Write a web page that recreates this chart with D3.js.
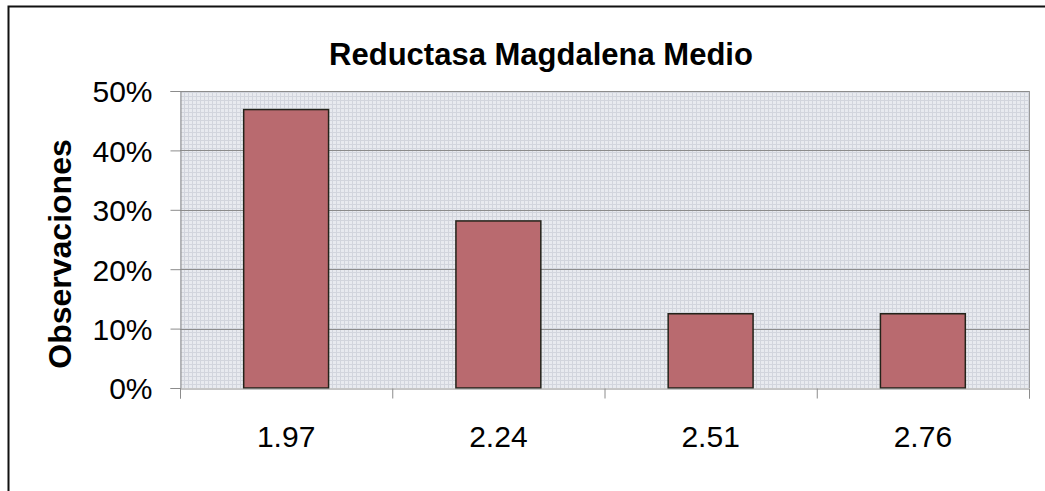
<!DOCTYPE html>
<html>
<head>
<meta charset="utf-8">
<script src="https://cdn.jsdelivr.net/npm/d3@7"></script>
<style>
  html, body { margin: 0; padding: 0; background: #fff; }
  svg { display: block; font-family: Arial, "Liberation Sans", sans-serif; }
</style>
</head>
<body>
<svg id="chart" width="1045" height="491"></svg>
<script>
// Reductasa classes and the share of observations in each
const categories = ["1.97", "2.24", "2.51", "2.76"];
const shares = [0.46875, 0.28125, 0.125, 0.125];
const yTicks = [0, 0.1, 0.2, 0.3, 0.4, 0.5];
const titleText = "Reductasa Magdalena Medio";
const yTitle = "Observaciones";

const svg = d3.select("#chart");
const plot = { left: 180, top: 91, right: 1029, bottom: 388 };

// outer frame
svg.append("rect")
  .attr("x", 8.5).attr("y", 6.5)
  .attr("width", 1060).attr("height", 500)
  .attr("fill", "none").attr("stroke", "#111").attr("stroke-width", 2);

// light crosshatch texture for the plot background
const defs = svg.append("defs");
const pat = defs.append("pattern")
  .attr("id", "hatch").attr("patternUnits", "userSpaceOnUse")
  .attr("width", 4).attr("height", 4);
pat.append("rect").attr("width", 4).attr("height", 4).attr("fill", "#e8eaef");
pat.append("path").attr("d", "M0,0.5H4M0.5,0V4")
  .attr("stroke", "#d2d5dd").attr("stroke-width", 1);

const x = d3.scaleBand()
  .domain(categories)
  .range([plot.left, plot.right])
  .paddingInner(0.6).paddingOuter(0.3);

const y = d3.scaleLinear()
  .domain([0, 0.5])
  .range([plot.bottom, plot.top]);

svg.append("rect")
  .attr("x", plot.left).attr("y", plot.top)
  .attr("width", plot.right - plot.left).attr("height", plot.bottom - plot.top)
  .attr("fill", "url(#hatch)");

// horizontal gridlines
svg.append("g")
  .selectAll("line")
  .data(yTicks.filter(d => d > 0))
  .join("line")
  .attr("x1", plot.left).attr("x2", plot.right)
  .attr("y1", d => Math.round(y(d)) + 0.5).attr("y2", d => Math.round(y(d)) + 0.5)
  .attr("stroke", "#8c8c8c").attr("stroke-width", 1);

// right edge of plot area
svg.append("line")
  .attr("x1", plot.right + 0.5).attr("x2", plot.right + 0.5)
  .attr("y1", plot.top).attr("y2", plot.bottom)
  .attr("stroke", "#9a9a9a");

// bars
svg.append("g")
  .selectAll("rect")
  .data(shares)
  .join("rect")
  .attr("x", (d, i) => x(categories[i]))
  .attr("y", d => y(d))
  .attr("width", x.bandwidth())
  .attr("height", d => y(0) - y(d))
  .attr("fill", "#b96a6f")
  .attr("stroke", "#23231a").attr("stroke-width", 1.5);

// y axis
const yAxis = d3.axisLeft(y)
  .tickValues(yTicks)
  .tickFormat(d3.format(".0%"))
  .tickSize(10).tickPadding(18);
const gy = svg.append("g")
  .attr("transform", `translate(${plot.left + 0.5},0)`)
  .call(yAxis);
gy.select(".domain").attr("stroke", "#8c8c8c");
gy.selectAll(".tick line").attr("stroke", "#8c8c8c");
gy.selectAll(".tick text")
  .attr("font-size", 30).attr("fill", "#000")
  .attr("dy", "0.36em")
  .attr("font-family", "Arial, 'Liberation Sans', sans-serif");

// x axis: tick marks at category boundaries
const xb = d3.scaleLinear().domain([0, categories.length]).range([plot.left, plot.right]);
const gx = svg.append("g")
  .attr("transform", `translate(0,${plot.bottom + 0.5})`)
  .call(d3.axisBottom(xb).tickValues(d3.range(categories.length + 1)).tickSize(10).tickFormat(""));
gx.select(".domain").attr("stroke", "#8c8c8c");
gx.selectAll(".tick line").attr("stroke", "#8c8c8c");

// category labels
svg.append("g")
  .selectAll("text")
  .data(categories)
  .join("text")
  .attr("x", d => x(d) + x.bandwidth() / 2)
  .attr("y", 447)
  .attr("text-anchor", "middle")
  .attr("font-size", 30)
  .attr("fill", "#000")
  .text(d => d);

// title
svg.append("text")
  .attr("x", 541).attr("y", 65)
  .attr("text-anchor", "middle")
  .attr("font-size", 31).attr("font-weight", "bold")
  .text(titleText);

// y axis title
svg.append("text")
  .attr("transform", `translate(71,254) rotate(-90)`)
  .attr("text-anchor", "middle")
  .attr("font-size", 32).attr("font-weight", "bold")
  .text(yTitle);
</script>
</body>
</html>
